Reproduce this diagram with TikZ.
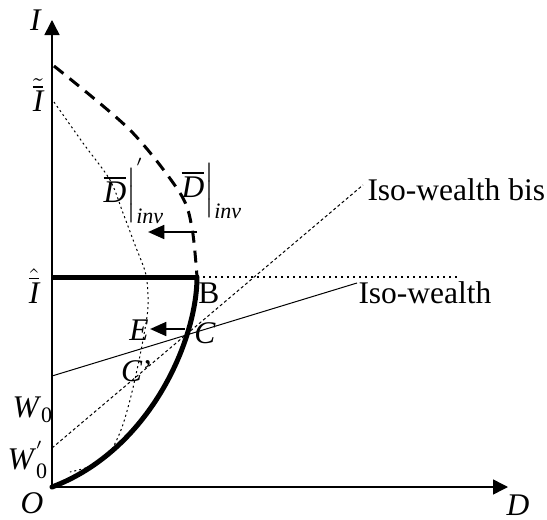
\documentclass[tikz,border=0pt]{standalone}
\usepackage{amsmath}
\usepackage{fontspec}
\setmainfont{Liberation Serif}
\usetikzlibrary{arrows.meta, positioning}
\tikzset{
  axis/.style={
    -{Triangle[length=6pt,width=6pt]},
    line width=0.6pt
  },
  lbl/.style={
    inner sep=0pt,
    font=\fontsize{12.6}{14}\selectfont
  },
  supply/.style={
    line width=2pt,
    line cap=round
  },
  dem/.style={
    line width=1.2pt,
    dash pattern=on 4.8pt off 3.2pt
  },
  dembis/.style={
    line width=0.4pt,
    dash pattern=on 0.8pt off 1.2pt
  },
  iso/.style={
    line width=0.4pt
  },
  isobis/.style={
    line width=0.4pt,
    dash pattern=on 1.2pt off 1pt
  },
  level/.style={
    line width=0.8pt,
    dash pattern=on 0.8pt off 1.6pt
  },
  movearrow/.style={
    -{Triangle[length=6.5pt,width=5.5pt]},
    line width=1pt
  }
}

\begin{document}
\begin{tikzpicture}[x=0.4pt, y=-0.4pt]
  \useasboundingbox (0,0) rectangle (547,520);

  % Points
  \coordinate (O) at (52,487);
  \coordinate (Itop) at (52,20);
  \coordinate (Dend) at (508,487);
  \coordinate (Itld) at (54,66);
  \coordinate (Iprm) at (54,102);
  \coordinate (Ihat) at (52,277);
  \coordinate (B) at (197,277);
  \coordinate (lvlend) at (460,277);
  \coordinate (W0) at (52,376);
  \coordinate (W0p) at (52,448);
  \coordinate (isoend) at (357,283);
  \coordinate (bisend) at (363,185);
  \coordinate (C) at (185,329);
  \coordinate (E) at (150,329);
  \coordinate (Dr) at (197,232);
  \coordinate (Dl) at (148,232);

  % Axes
  \draw[axis] (O) -- (Itop);
  \draw[axis] (O) -- (Dend);
  \node[lbl] (lblI) at (36,20) {\textit{I}};
  \node[lbl] (lblD) at (518,505) {\textit{D}};
  \node[lbl] (lblO) at (32,503) {\textit{O}};

  % Courbes de demande
  \draw[dem] plot[smooth] coordinates {(Itld) (130,130) (180,193) (192,228) (B)};
  \draw[dembis] plot[smooth] coordinates {(Iprm) (83,143) (110,180) (123,213) (135,245)
    (146,275) (148,307) (143,340) (137,370) (130,400) (121,430) (108,455) (88,467) (70,472)};

  % Offre
  \draw[supply] (O) .. controls (150,450) and (197,340) .. (B);
  \draw[supply, line cap=butt] (Ihat) -- (B);
  \draw[level] (B) -- (lvlend);

  % Iso-richesse
  \draw[iso] (W0) -- (isoend);
  \draw[isobis] (W0p) -- (bisend);
  \node[lbl, anchor=base west] (lblIso) at (358,303) {Iso-wealth};
  \node[lbl, anchor=base west] (lblBis) at (367,200) {Iso-wealth bis};

  % Deplacements
  \draw[movearrow] (Dr) -- (Dl);
  \draw[movearrow] (C) -- (E);

  % Etiquettes
  \node[lbl] (lblDinv) at (212,191) {$\overline{\text{\itshape D}}\Big|_{\text{\itshape inv}}$};
  \node[lbl] (lblDinvp) at (134,191) {$\overline{\text{\itshape D}}\Big|_{\text{\itshape inv}}^{'}$};
  \node[lbl] (lblItld) at (38,95) {$\tilde{\overline{\text{\itshape I}}}$};
  \node[lbl] (lblIhat) at (34,286) {$\hat{\overline{\text{\itshape I}}}$};
  \node[lbl] (lblW0) at (33,410) {\textit{W}$_{\text{0}}$};
  \node[lbl] (lblW0p) at (28,460) {\textit{W}$_{\text{0}}^{'}$};
  \node[lbl] (lblB) at (209,293) {B};
  \node[lbl] (lblC) at (205,333) {\textit{C}};
  \node[lbl] (lblE) at (139,330) {\textit{E}};
  \node[lbl] (lblCp) at (137,371) {\textit{C}’};
\end{tikzpicture}
\end{document}
